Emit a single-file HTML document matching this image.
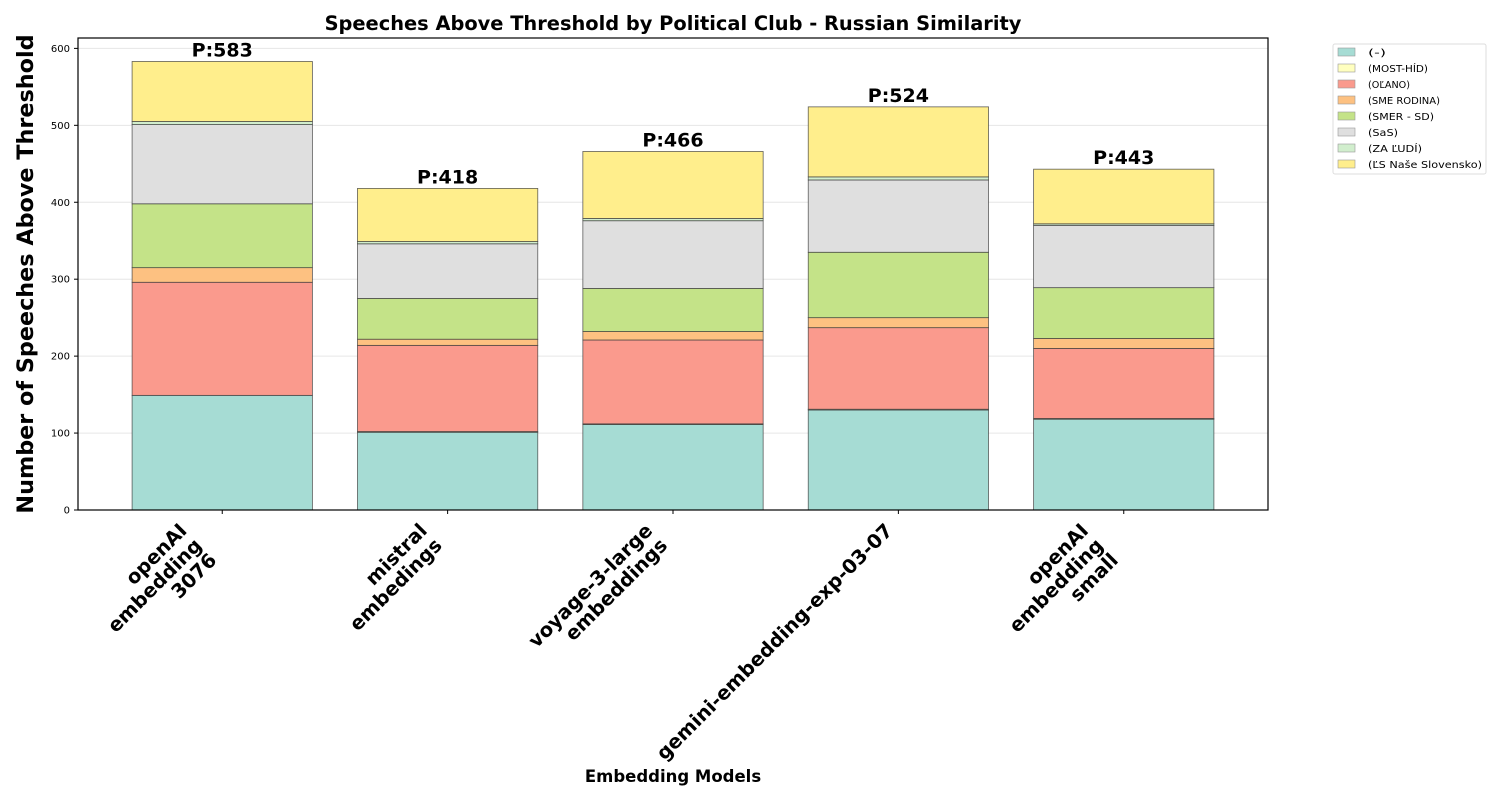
<!DOCTYPE html>
<html><head><meta charset="utf-8"><style>
html,body{margin:0;padding:0;background:#fff;}
svg{display:block;font-family:"DejaVu Sans","Liberation Sans",sans-serif;}
</style></head><body>
<svg id="chart" width="1500" height="800" viewBox="0 0 1500 800" xmlns="http://www.w3.org/2000/svg">
<rect x="0" y="0" width="1500" height="800" fill="#fff"/>
<text x="673" y="30" text-anchor="middle" font-size="19.4" font-weight="bold">Speeches Above Threshold by Political Club - Russian Similarity</text>
<text transform="translate(33,274) rotate(-90)" text-anchor="middle" font-size="22.3" font-weight="bold">Number of Speeches Above Threshold</text>
<text x="673" y="782" text-anchor="middle" font-size="16.5" font-weight="bold">Embedding Models</text>
<g id="grid"></g>
<g id="bars"></g>
<g id="totals"></g>
<rect x="78" y="38" width="1190" height="472" fill="none" stroke="#000" stroke-width="1.2"/>
<g id="yticks"></g>
<g id="xticks"></g>
<g id="legend"></g>
</svg>
<script>
const categories = [["openAI","embedding","3076"],["mistral","embedings"],["voyage-3-large","embeddings"],["gemini-embedding-exp-03-07"],["openAI","embedding","small"]];
const parties = ["(-)","(MOST-HÍD)","(OĽANO)","(SME RODINA)","(SMER - SD)","(SaS)","(ZA ĽUDÍ)","(ĽS Naše Slovensko)"];
const seriesNone = [149,101,111,130,118];
const seriesMost = [0,1,1,1,1];
const seriesOlano = [147,112,109,106,91];
const seriesSmeRodina = [19,8,11,13,13];
const seriesSmer = [83,53,56,85,66];
const seriesSas = [103,71,88,94,81];
const seriesZaLudi = [4,3,3,4,2];
const seriesLs = [78,69,87,91,71];
const yTicks = [0,100,200,300,400,500,600];
const colors = ["#a6dcd4","#ffffbf","#fa9a8d","#fdc181","#c4e388","#dfdfdf","#d1eecd","#ffee8c"];

const series = [seriesNone,seriesMost,seriesOlano,seriesSmeRodina,seriesSmer,seriesSas,seriesZaLudi,seriesLs];
const NS="http://www.w3.org/2000/svg";
const L=78,R=1268,T=38,B=510;
const yMax=613.5;
const xMin=-0.64,xMax=4.64;
function y(v){return B-(v/yMax)*(B-T);}
function x(i){return L+(i-xMin)/(xMax-xMin)*(R-L);}
const bw=0.8*(R-L)/(xMax-xMin);
function mk(tag,attrs,parent){const e=document.createElementNS(NS,tag);for(const k in attrs)e.setAttribute(k,attrs[k]);parent.appendChild(e);return e;}

const grid=document.getElementById('grid');
const yt=document.getElementById('yticks');
yTicks.forEach(t=>{
  const g=mk('line',{x1:L,x2:R,y1:y(t),y2:y(t),stroke:'#e6e6e6','stroke-width':1},grid);
  
  
  const tk=mk('line',{x1:L-4,x2:L,y1:y(t),y2:y(t),stroke:'#000','stroke-width':1},yt);
  
  
  const lb=mk('text',{x:L-8,y:y(t)+3.5,'text-anchor':'end','font-size':10},yt);
  lb.textContent=t;
  
  
});

const bars=document.getElementById('bars');
const totals=document.getElementById('totals');
categories.forEach((c,i)=>{
  let base=0;
  series.forEach((s,k)=>{
    const v=s[i];
    const r=mk('rect',{x:x(i)-bw/2,y:y(base+v),width:bw,height:Math.max(0,y(base)-y(base+v)),fill:colors[k],stroke:'#3a3a3a','stroke-width':0.8,'stroke-opacity':0.8},bars);
    
    
    base+=v;
  });
  const tl=mk('text',{x:x(i),y:y(base)-5,'text-anchor':'middle','font-size':19,'font-weight':'bold'},totals);
  tl.textContent='P:'+base;
  
  
});

const xt=document.getElementById('xticks');
categories.forEach((lines,i)=>{
  const tk=mk('line',{x1:x(i),x2:x(i),y1:B,y2:B+4,stroke:'#000','stroke-width':1},xt);
  
  
  const outer=mk('g',{},xt);
  
  
  const inner=mk('g',{transform:'rotate(-45)'},outer);
  lines.forEach((ln,j)=>{const t=mk('text',{x:0,y:j*21,'text-anchor':'end','font-size':19.5,'font-weight':'bold'},inner);t.textContent=ln;});
  const bb=outer.getBoundingClientRect();
  const sb=document.getElementById('chart').getBoundingClientRect();
  const dx=x(i)-1-(bb.right-sb.left), dy=(B+9)-(bb.top-sb.top);
  outer.setAttribute('transform','translate('+dx+','+dy+')');
});

const lg=document.getElementById('legend');
const lbox=mk('rect',{x:1333,y:44,width:153,height:130,fill:'#fff',stroke:'#ddd','stroke-width':1,rx:2},lg);


parties.forEach((p,k)=>{
  const yy=52+k*16;
  const g=mk('g',{},lg);
  
  
  mk('rect',{x:1338,y:yy-4,width:17,height:8,fill:colors[k],stroke:'#999','stroke-width':0.6},g);
  const t=mk('text',{x:1368,y:yy+4,'font-size':10,textLength:(p.length*6),lengthAdjust:'spacingAndGlyphs'},g);
  t.textContent=p;
});
</script>
</body></html>
